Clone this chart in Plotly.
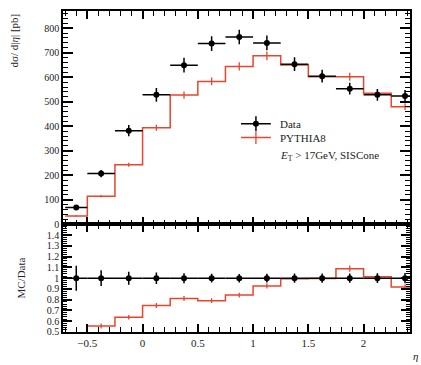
import plotly.graph_objects as go

# Pseudorapidity bin edges and per-bin cross sections [pb]
eta_edges = [-0.7, -0.5, -0.25, 0.0, 0.25, 0.5, 0.75, 1.0, 1.25, 1.5, 1.75, 2.0, 2.25, 2.5]
data_xsec = [69, 207, 382, 528, 649, 737, 764, 740, 653, 604, 553, 528, 523]
data_err = [8, 15, 23, 28, 30, 30, 30, 30, 28, 26, 24, 24, 25]
mc_xsec = [34, 115, 243, 394, 527, 583, 644, 687, 650, 602, 602, 535, 480]
mc_err = [3, 5, 8, 12, 15, 16, 17, 18, 17, 16, 16, 15, 14]

BLACK = "black"
RED = "#e8452c"
FONT = "Liberation Serif"

centers = [(a + b) / 2 for a, b in zip(eta_edges[:-1], eta_edges[1:])]
halfw = [(b - a) / 2 for a, b in zip(eta_edges[:-1], eta_edges[1:])]

ratio_mc = [m / d for m, d in zip(mc_xsec, data_xsec)]
ratio_mc_err = [e / d for e, d in zip(mc_err, data_xsec)]
ratio_data = [1.0 for _ in data_xsec]
ratio_data_err = [e / d for e, d in zip(data_err, data_xsec)]


def step_xy(values):
    return list(eta_edges), list(values) + [values[-1]]


fig = go.Figure()

# ---- upper panel: cross section ----
sx, sy = step_xy(mc_xsec)
fig.add_trace(go.Scatter(x=sx, y=sy, mode="lines", line=dict(color=RED, width=1.5, shape="hv"),
                         xaxis="x2", yaxis="y2", hoverinfo="skip"))
fig.add_trace(go.Scatter(x=centers, y=mc_xsec, mode="markers", marker=dict(size=1, color=RED, opacity=0),
                         error_y=dict(type="data", array=mc_err, color=RED, thickness=1.3, width=0),
                         xaxis="x2", yaxis="y2"))
fig.add_trace(go.Scatter(x=centers, y=data_xsec, mode="markers",
                         marker=dict(size=6, color=BLACK, symbol="circle"),
                         error_x=dict(type="data", array=halfw, color=BLACK, thickness=1.5, width=0),
                         error_y=dict(type="data", array=data_err, color=BLACK, thickness=1.5, width=0),
                         xaxis="x2", yaxis="y2"))

# ---- lower panel: MC / Data ----
rx, ry = step_xy(ratio_mc)
fig.add_trace(go.Scatter(x=rx, y=ry, mode="lines", line=dict(color=RED, width=1.5, shape="hv"),
                         xaxis="x", yaxis="y", hoverinfo="skip"))
fig.add_trace(go.Scatter(x=centers[1:], y=ratio_mc[1:], mode="markers",
                         marker=dict(size=1, color=RED, opacity=0),
                         error_y=dict(type="data", array=ratio_mc_err[1:], color=RED, thickness=1.3, width=0),
                         xaxis="x", yaxis="y"))
fig.add_trace(go.Scatter(x=centers, y=ratio_data, mode="markers",
                         marker=dict(size=6, color=BLACK, symbol="circle"),
                         error_x=dict(type="data", array=halfw, color=BLACK, thickness=1.5, width=0),
                         error_y=dict(type="data", array=ratio_data_err, color=BLACK, thickness=1.5, width=0),
                         xaxis="x", yaxis="y"))

# ---- legend samples, drawn in a hidden unit frame over the upper panel ----
lx0, lx1, ltx = 0.513, 0.599, 0.619
rows = [0.472, 0.4065, 0.322]
mid = (lx0 + lx1) / 2
fig.add_trace(go.Scatter(x=[lx0, lx1], y=[rows[0], rows[0]], mode="lines",
                         line=dict(color=BLACK, width=1.5), xaxis="x3", yaxis="y3", hoverinfo="skip"))
fig.add_trace(go.Scatter(x=[mid], y=[rows[0]], mode="markers", marker=dict(size=6, color=BLACK),
                         error_y=dict(type="constant", value=0.035, color=BLACK, thickness=1.5, width=0),
                         xaxis="x3", yaxis="y3", hoverinfo="skip"))
fig.add_trace(go.Scatter(x=[lx0, lx1], y=[rows[1], rows[1]], mode="lines",
                         line=dict(color=RED, width=1.5), xaxis="x3", yaxis="y3", hoverinfo="skip"))
fig.add_trace(go.Scatter(x=[mid], y=[rows[1]], mode="markers", marker=dict(size=1, color=RED, opacity=0),
                         error_y=dict(type="constant", value=0.03, color=RED, thickness=1.3, width=0),
                         xaxis="x3", yaxis="y3", hoverinfo="skip"))

split = 0.3354
common_x = dict(range=[-0.72, 2.42], showgrid=False, zeroline=False, showline=True,
                linecolor=BLACK, linewidth=1.5, mirror="allticks", ticks="inside",
                ticklen=8, tickwidth=1.6, tickcolor=BLACK, tickmode="linear", tick0=0, dtick=0.5,
                minor=dict(tickmode="linear", tick0=0, dtick=0.1, ticks="inside", ticklen=5,
                           tickwidth=1.4, tickcolor=BLACK, showgrid=False))

fig.update_layout(
    width=421, height=365,
    margin=dict(l=63, r=9, t=10, b=33),
    plot_bgcolor="white",
    showlegend=False,
    xaxis=dict(**common_x, domain=[0, 1], anchor="y",
               tickfont=dict(family=FONT, size=11, color="#222")),
    xaxis2=dict(**common_x, domain=[0, 1], anchor="y2", matches="x", showticklabels=False),
    yaxis=dict(domain=[0, split], anchor="x", range=[0.5, 1.4999], dtick=0.1, tick0=0.5,
               ticks="inside", ticklen=9, tickwidth=1.6, tickcolor=BLACK, mirror="allticks",
               showline=True, linecolor=BLACK, linewidth=1.5, showgrid=False, zeroline=False,
               tickfont=dict(family=FONT, size=10, color="#222"),
               minor=dict(ticks="inside", dtick=0.02, ticklen=4, tickwidth=1.3, tickcolor=BLACK)),
    yaxis2=dict(domain=[split, 1], anchor="x2", range=[0, 870], dtick=100, tick0=0,
                ticks="inside", ticklen=10, tickwidth=1.6, tickcolor=BLACK, mirror="allticks",
                showline=True, linecolor=BLACK, linewidth=1.5, showgrid=False, zeroline=False,
                tickfont=dict(family=FONT, size=10, color="#222"),
                minor=dict(ticks="inside", dtick=20, ticklen=5, tickwidth=1.3, tickcolor=BLACK)),
    xaxis3=dict(range=[0, 1], overlaying="x2", anchor="y3", visible=False),
    yaxis3=dict(range=[0, 1], overlaying="y2", anchor="x3", visible=False),
)

legend_texts = ["Data", "PYTHIA8", "<i>E</i><sub>T</sub> > 17GeV, SISCone"]
for txt, yy in zip(legend_texts, rows):
    fig.add_annotation(text=txt, xref="x3", yref="y3", x=ltx, y=yy,
                       xanchor="left", yanchor="middle", showarrow=False,
                       font=dict(family=FONT, size=11, color="#222"))

# axis titles
fig.add_annotation(text="dσ/ d|<i>η</i>| [pb]", xref="paper", yref="paper", x=-0.14, y=1.0,
                   xanchor="center", yanchor="top", textangle=-90, showarrow=False,
                   font=dict(family=FONT, size=11, color="#222"))
fig.add_annotation(text="MC/Data", xref="paper", yref="paper", x=-0.12, y=split / 2,
                   xanchor="center", yanchor="middle", textangle=-90, showarrow=False,
                   font=dict(family=FONT, size=11, color="#222"))
fig.add_annotation(text="<i>η</i>", xref="paper", yref="paper", x=1.0, y=-0.075,
                   xanchor="left", yanchor="middle", xshift=1, showarrow=False,
                   font=dict(family=FONT, size=11, color="#222"))

fig.write_html("out.html")
